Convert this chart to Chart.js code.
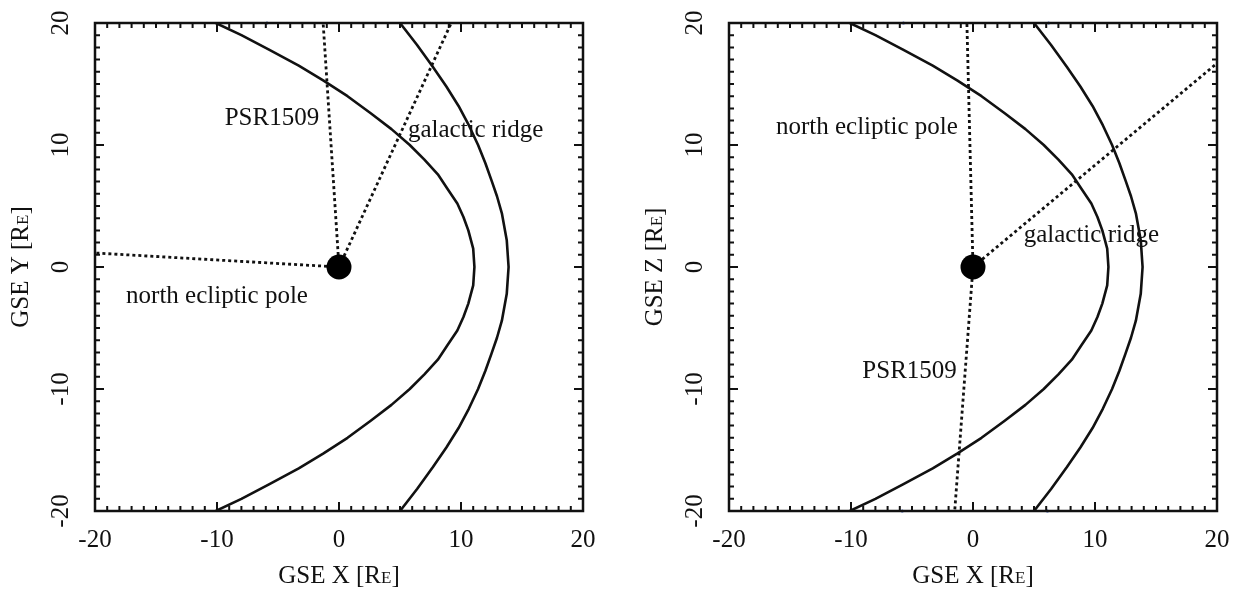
<!DOCTYPE html>
<html>
<head>
<meta charset="utf-8">
<title>GSE projections</title>
<script src="https://cdn.jsdelivr.net/npm/chart.js@4.4.0/dist/chart.umd.min.js"></script>
<style>
    html, body { margin: 0; padding: 0; background: #fff; }
    #wrap { position: relative; width: 1239px; height: 596px; }
    canvas { position: absolute; top: 0; }
    #xy_chart { left: 0; }
    #xz_chart { left: 620px; }
</style>
</head>
<body>
<div id="wrap">
    <canvas id="xy_chart" width="620" height="596"></canvas>
    <canvas id="xz_chart" width="619" height="596"></canvas>
</div>
<script>
// axis range and labelled ticks (Earth radii)
var tickValues = [-20, -10, 0, 10, 20];

// magnetopause (inner) and bow shock (outer) cross sections
var mpY = [20, 19, 17.8, 16.5, 15.3, 14, 12.6, 11.3, 10, 8.8, 7.6, 6.4, 5.2, 4.1, 3.0, 1.5, 0,
    -1.5, -3.0, -4.1, -5.2, -6.4, -7.6, -8.8, -10, -11.3, -12.6, -14, -15.3, -16.5, -17.8, -19, -20];
var mpX = [-10.1, -8.0, -5.7, -3.3, -1.3, 0.7, 2.6, 4.3, 5.8, 7.0, 8.1, 8.9, 9.7, 10.2, 10.6, 11.0, 11.1,
    11.0, 10.6, 10.2, 9.7, 8.9, 8.1, 7.0, 5.8, 4.3, 2.6, 0.7, -1.3, -3.3, -5.7, -8.0, -10.1];
var bsY = [20, 18.2, 16.4, 14.8, 13.2, 11.6, 10, 8.5, 7.1, 5.8, 4.4, 2.2, 0,
    -2.2, -4.4, -5.8, -7.1, -8.5, -10, -11.6, -13.2, -14.8, -16.4, -18.2, -20];
var bsX = [5.0, 6.4, 7.7, 8.8, 9.8, 10.65, 11.4, 12.0, 12.5, 12.95, 13.35, 13.75, 13.9,
    13.75, 13.35, 12.95, 12.5, 12.0, 11.4, 10.65, 9.8, 8.8, 7.7, 6.4, 5.0];

// look directions from Earth, XY plane
var psrXY_x = [0, -1.3], psrXY_y = [0, 20];
var ridgeXY_x = [0, 9.2], ridgeXY_y = [0, 20];
var nepXY_x = [0, -20], nepXY_y = [0, 1.15];

// look directions from Earth, XZ plane
var nepXZ_x = [0, -0.5], nepXZ_y = [0, 20];
var psrXZ_x = [0, -1.5], psrXZ_y = [0, -20];
var ridgeXZ_x = [0, 20], ridgeXZ_y = [0, 16.7];

// small blue markers on the frame
var markXY_x = [-5.9], markXY_y = [20];
var markXZ_x = [-5.7, 6.2, -5.8, 6.1], markXZ_y = [20, 20, -20, -20];

// text placed in data units
var xyNotes = [["PSR1509", -5.5, 12.2], ["galactic ridge", 11.2, 11.2], ["north ecliptic pole", -10.0, -2.4]];
var xzNotes = [["north ecliptic pole", -8.7, 11.4], ["galactic ridge", 9.7, 2.6], ["PSR1509", -5.2, -8.6]];

var FONT = '"Liberation Serif", "Times New Roman", serif';
var INK = '#111';

function toPoints(xs, ys) {
    return xs.map(function (x, i) { return { x: x, y: ys[i] }; });
}

function solid(xs, ys) {
    return { data: toPoints(xs, ys), showLine: true, borderColor: INK, borderWidth: 2.6,
        borderJoinStyle: 'round', pointRadius: 0, tension: 0, fill: false, order: 2 };
}

function dotted(xs, ys) {
    return { data: toPoints(xs, ys), showLine: true, borderColor: INK, borderWidth: 2.8,
        borderDash: [3, 3], borderCapStyle: 'butt', pointRadius: 0, tension: 0, fill: false, order: 3 };
}

function earth() {
    return { data: [{ x: 0, y: 0 }], showLine: false, pointRadius: 12.5, pointBackgroundColor: '#000',
        pointBorderWidth: 0, order: 0 };
}

function marks(xs, ys) {
    return { data: toPoints(xs, ys), showLine: false, pointRadius: 1.6, pointBackgroundColor: '#2f52b8',
        pointBorderWidth: 0, order: 1, clip: false };
}

// draws "GSE ? [RE]" with a small E, rotated by angle around (cx, cy)
function axisTitle(ctx, letter, cx, cy, angle) {
    var head = 'GSE ' + letter + ' [R', tail = ']';
    ctx.save();
    ctx.translate(cx, cy);
    ctx.rotate(angle);
    ctx.font = '25px ' + FONT;
    var w1 = ctx.measureText(head).width, w3 = ctx.measureText(tail).width;
    ctx.font = '17px ' + FONT;
    var w2 = ctx.measureText('E').width;
    var x = -(w1 + w2 + w3) / 2;
    ctx.textAlign = 'left';
    ctx.textBaseline = 'alphabetic';
    ctx.font = '25px ' + FONT;
    ctx.fillText(head, x, 8);
    ctx.font = '17px ' + FONT;
    ctx.fillText('E', x + w1, 8);
    ctx.font = '25px ' + FONT;
    ctx.fillText(tail, x + w1 + w2, 8);
    ctx.restore();
}

var frameTicks = {
    id: 'frameTicks',
    afterDatasetsDraw: function (chart, args, opts) {
        var ctx = chart.ctx, a = chart.chartArea;
        var xs = chart.scales.x, ys = chart.scales.y;
        var v, p, len;
        ctx.save();
        ctx.strokeStyle = INK;
        ctx.lineWidth = 2;
        ctx.beginPath();
        for (v = xs.min; v <= xs.max; v++) {
            p = xs.getPixelForValue(v);
            len = v % 10 === 0 ? 9 : 5;
            ctx.moveTo(p, a.bottom); ctx.lineTo(p, a.bottom - len);
            ctx.moveTo(p, a.top); ctx.lineTo(p, a.top + len);
        }
        for (v = ys.min; v <= ys.max; v++) {
            p = ys.getPixelForValue(v);
            len = v % 10 === 0 ? 9 : 5;
            ctx.moveTo(a.left, p); ctx.lineTo(a.left + len, p);
            ctx.moveTo(a.right, p); ctx.lineTo(a.right - len, p);
        }
        ctx.stroke();
        ctx.lineWidth = 2.5;
        ctx.strokeRect(a.left, a.top, a.right - a.left, a.bottom - a.top);

        ctx.fillStyle = INK;
        ctx.font = '25px ' + FONT;
        ctx.textAlign = 'center';
        ctx.textBaseline = 'middle';
        tickValues.forEach(function (t) {
            ctx.fillText(String(t), xs.getPixelForValue(t), a.bottom + 29);
            ctx.save();
            ctx.translate(a.left - 34, ys.getPixelForValue(t));
            ctx.rotate(-Math.PI / 2);
            ctx.fillText(String(t), 0, 0);
            ctx.restore();
        });

        axisTitle(ctx, 'X', (a.left + a.right) / 2, a.bottom + 64, 0);
        axisTitle(ctx, opts.yLetter, a.left - 75, (a.top + a.bottom) / 2, -Math.PI / 2);

        ctx.font = '25px ' + FONT;
        ctx.textAlign = 'center';
        ctx.textBaseline = 'middle';
        opts.notes.forEach(function (n) {
            ctx.fillText(n[0], xs.getPixelForValue(n[1]), ys.getPixelForValue(n[2]));
        });
        ctx.restore();
    }
};

function panelConfig(datasets, yLetter, notes, padding) {
    return {
        type: 'scatter',
        data: { datasets: datasets },
        options: {
            responsive: false,
            animation: false,
            events: [],
            layout: { padding: padding },
            scales: {
                x: { type: 'linear', min: -20, max: 20, display: false },
                y: { type: 'linear', min: -20, max: 20, display: false }
            },
            plugins: {
                legend: { display: false },
                tooltip: { enabled: false },
                frameTicks: { yLetter: yLetter, notes: notes }
            }
        },
        plugins: [frameTicks]
    };
}

new Chart(document.getElementById("xy_chart").getContext("2d"), panelConfig([
    earth(),
    marks(markXY_x, markXY_y),
    solid(mpX, mpY),
    solid(bsX, bsY),
    dotted(psrXY_x, psrXY_y),
    dotted(ridgeXY_x, ridgeXY_y),
    dotted(nepXY_x, nepXY_y)
], 'Y', xyNotes, { left: 95, right: 37, top: 23, bottom: 85 }));

new Chart(document.getElementById("xz_chart").getContext("2d"), panelConfig([
    earth(),
    marks(markXZ_x, markXZ_y),
    solid(mpX, mpY),
    solid(bsX, bsY),
    dotted(nepXZ_x, nepXZ_y),
    dotted(psrXZ_x, psrXZ_y),
    dotted(ridgeXZ_x, ridgeXZ_y)
], 'Z', xzNotes, { left: 109, right: 22, top: 23, bottom: 85 }));
</script>
</body>
</html>
